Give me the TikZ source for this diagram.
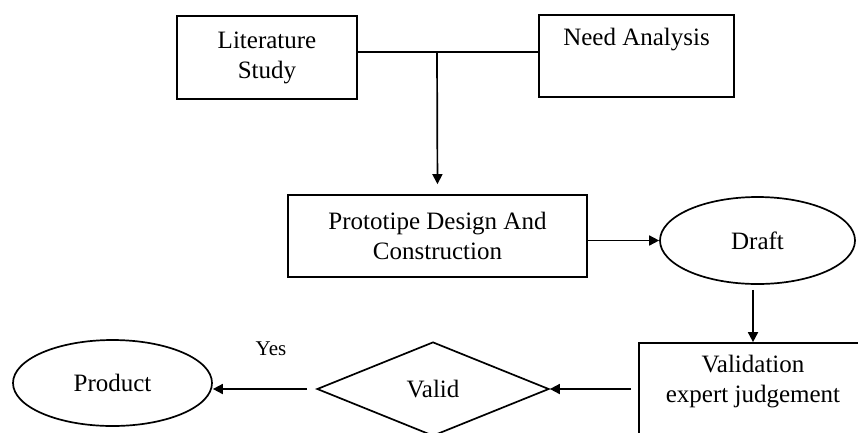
\documentclass[tikz,border=0pt]{standalone}
\usepackage{fontspec}
\setmainfont{Liberation Serif}
\usetikzlibrary{arrows.meta,shapes.geometric}

\begin{document}
\begin{tikzpicture}[x=1pt, y=-1pt, line width=1.7pt,
  >={Triangle[length=10pt,width=10pt]},
  every node/.style={font=\fontsize{25}{30}\selectfont, align=center},
  box/.style={draw, rectangle, inner sep=0pt},
  oval/.style={draw, ellipse, inner sep=0pt},
  choice/.style={draw, diamond, inner sep=0pt}]

\useasboundingbox (0,0) rectangle (858,432);

% Top row: the two starting boxes
\node[box, minimum width=180pt, minimum height=83pt] (lit) at (267,57.5) {Literature\\Study};
\node[box, minimum width=195pt, minimum height=82pt] (need) at (636.5,56) {Need Analysis\\ \strut};

% Middle: design step and draft
\node[box, minimum width=299pt, minimum height=82pt] (proto) at (437.5,236) {Prototipe Design And\\Construction};
\node[oval, minimum width=195pt, minimum height=87pt] (draft) at (757.5,240.5) {Draft};

% Bottom row: validation, decision, product
\node[box, minimum width=228pt, minimum height=110pt] (valbox) at (753,398) {Validation\\expert judgement\\ \strut};
\node[choice, minimum width=232pt, minimum height=94pt] (valid) at (433,389) {Valid};
\node[oval, minimum width=199pt, minimum height=86pt] (prod) at (112.5,383) {Product};
\node (yes) at (271,349) {\fontsize{21}{24}\selectfont Yes};

% Connectors
\coordinate (join) at (437,52);
\draw (lit.east |- join) -- (need.west |- join);
\draw[->, shorten >=10pt] (join) -- (proto.north);
\draw[->] (proto.east |- draft.west) -- (draft.west);
\draw[->, shorten <=5pt] (draft.south -| valbox.north) -- (valbox.north);
\draw[->, shorten <=7pt] (valid.east -| valbox.west) -- (valid.east);
\draw[->, shorten <=9pt] (valid.west) -- (valid.west -| prod.east);

\end{tikzpicture}
\end{document}
